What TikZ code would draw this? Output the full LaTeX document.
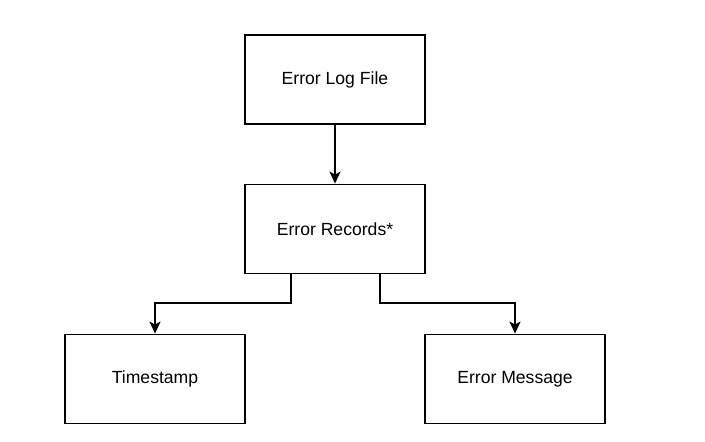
\documentclass[tikz,border=0pt]{standalone}
\usepackage{fontspec}
\setmainfont{Liberation Sans}
\usetikzlibrary{arrows.meta}

\begin{document}
\begin{tikzpicture}[x=1pt, y=1pt,
    box/.style={draw=black, line width=1.8pt, align=center,
                minimum width=180pt, minimum height=89pt,
                font=\fontsize{17.6}{20}\selectfont},
    arrow/.style={-{Stealth[length=12pt, width=11pt, inset=3pt]}, line width=1.8pt, draw=black}
  ]
    \useasboundingbox (0,0) rectangle (705,442);

    \node[box] (logfile) at (335, 362.5) {Error Log File};
    \node[box] (records) at (335, 213)   {Error Records*};
    \node[box] (stamp)   at (155, 63)    {Timestamp};
    \node[box] (message) at (515, 63)    {Error Message};

    \draw[arrow] (logfile) -- (records);

    % the two branches leave the box off centre
    \draw[arrow] ([xshift=-44pt]records.south) -- ++(0,-29) -| (stamp.north);
    \draw[arrow] ([xshift=45pt]records.south)  -- ++(0,-29) -| (message.north);
  \end{tikzpicture}
\end{document}
